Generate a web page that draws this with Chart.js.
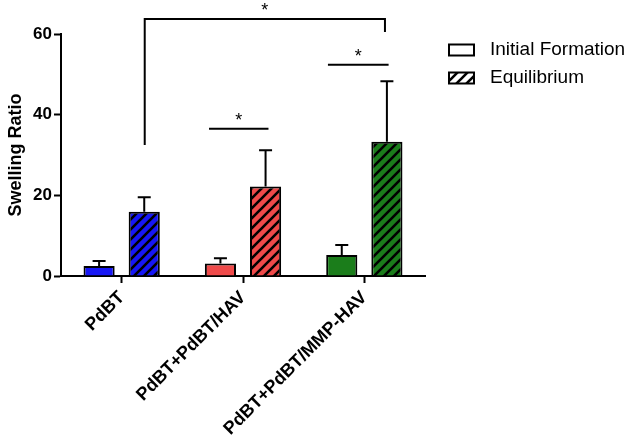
<!DOCTYPE html>
<html>
<head>
<meta charset="utf-8">
<script src="https://cdn.jsdelivr.net/npm/chart.js@4.4.1/dist/chart.umd.min.js"></script>
<style>
  html, body { margin: 0; padding: 0; background: #fff; }
  #wrap { width: 633px; height: 441px; position: relative; }
</style>
</head>
<body>
<div id="wrap"><canvas id="chart"></canvas></div>
<script>
const groups = ['PdBT', 'PdBT+PdBT/HAV', 'PdBT+PdBT/MMP-HAV'];
const seriesNames = ['Initial Formation', 'Equilibrium'];
const initialValues = [2.5, 3.1, 5.2];
const initialErrors = [1.2, 1.3, 2.5];
const equilibriumValues = [15.9, 22.2, 33.3];
const equilibriumErrors = [3.6, 9.0, 15.0];
const groupColors = ['#1717f5', '#ef4a4a', '#1b7d1b'];
const yTicks = [0, 20, 40, 60];
// significance brackets: x in category units, y in data units
const brackets = [
  { x1: 0.19, x2: 2.17, y: 63.7, leg1: 32.5, leg2: 60.5, label: '*' },
  { x1: 0.72, x2: 1.21, y: 36.5, label: '*' },
  { x1: 1.70, x2: 2.20, y: 52.4, label: '*' }
];

const FONT = "'Liberation Sans', Arial, sans-serif";

function hatch(bg, fg) {
  const size = 10;
  const c = document.createElement('canvas');
  c.width = size; c.height = size;
  const g = c.getContext('2d');
  g.fillStyle = bg;
  g.fillRect(0, 0, size, size);
  g.strokeStyle = fg;
  g.lineWidth = 2.6;
  g.beginPath();
  g.moveTo(-2, size + 2); g.lineTo(size + 2, -2);
  g.moveTo(-2, 2); g.lineTo(2, -2);
  g.moveTo(size - 2, size + 2); g.lineTo(size + 2, size - 2);
  g.stroke();
  return g.createPattern(c, 'repeat');
}

const errorBars = {
  id: 'errorBars',
  afterDatasetsDraw(chart) {
    const ctx = chart.ctx;
    const y = chart.scales.y;
    const errs = [initialErrors, equilibriumErrors];
    ctx.save();
    ctx.strokeStyle = '#000';
    ctx.lineWidth = 2;
    chart.data.datasets.forEach((ds, di) => {
      chart.getDatasetMeta(di).data.forEach((bar, i) => {
        const top = y.getPixelForValue(ds.data[i] + errs[di][i]);
        ctx.beginPath();
        ctx.moveTo(bar.x, bar.y);
        ctx.lineTo(bar.x, top);
        ctx.moveTo(bar.x - 6.5, top);
        ctx.lineTo(bar.x + 6.5, top);
        ctx.stroke();
      });
    });
    ctx.restore();
  }
};

const sigBrackets = {
  id: 'sigBrackets',
  afterDraw(chart) {
    const ctx = chart.ctx;
    const xs = chart.scales.x, ys = chart.scales.y;
    ctx.save();
    ctx.strokeStyle = '#000';
    ctx.lineWidth = 2;
    ctx.fillStyle = '#000';
    ctx.font = '18px ' + FONT;
    ctx.textAlign = 'center';
    ctx.textBaseline = 'middle';
    brackets.forEach(b => {
      const x1 = xs.getPixelForDecimal((b.x1 + 0.5) / groups.length);
      const x2 = xs.getPixelForDecimal((b.x2 + 0.5) / groups.length);
      const yy = ys.getPixelForValue(b.y);
      ctx.beginPath();
      if (b.leg1 !== undefined) {
        ctx.moveTo(x1, ys.getPixelForValue(b.leg1));
        ctx.lineTo(x1, yy);
        ctx.lineTo(x2, yy);
        ctx.lineTo(x2, ys.getPixelForValue(b.leg2));
      } else {
        ctx.moveTo(x1, yy);
        ctx.lineTo(x2, yy);
      }
      ctx.stroke();
      ctx.fillText(b.label, (x1 + x2) / 2, yy - 8);
    });
    ctx.restore();
  }
};

const customLegend = {
  id: 'customLegend',
  afterDraw(chart) {
    const ctx = chart.ctx;
    const fills = ['#ffffff', hatch('#ffffff', '#000000')];
    ctx.save();
    ctx.font = '19px ' + FONT;
    ctx.textBaseline = 'middle';
    ctx.textAlign = 'left';
    seriesNames.forEach((name, i) => {
      const cy = 50 + i * 28;
      ctx.fillStyle = fills[i];
      ctx.fillRect(449, cy - 5.5, 25, 11);
      ctx.strokeStyle = '#000';
      ctx.lineWidth = 2;
      ctx.strokeRect(449, cy - 5.5, 25, 11);
      ctx.fillStyle = '#000';
      ctx.fillText(name, 490, cy);
    });
    ctx.restore();
  }
};

new Chart(document.getElementById('chart'), {
  type: 'bar',
  data: {
    labels: groups,
    datasets: [
      {
        label: seriesNames[0],
        data: initialValues,
        backgroundColor: groupColors,
        borderColor: '#000',
        borderWidth: 2,
        categoryPercentage: 0.744,
        barPercentage: 0.69
      },
      {
        label: seriesNames[1],
        data: equilibriumValues,
        backgroundColor: groupColors.map(c => hatch(c, '#000')),
        borderColor: '#000',
        borderWidth: 2,
        categoryPercentage: 0.744,
        barPercentage: 0.69
      }
    ]
  },
  options: {
    responsive: true,
    maintainAspectRatio: false,
    animation: false,
    layout: { padding: { top: 34, right: 208, left: 0, bottom: 0 } },
    plugins: {
      legend: { display: false },
      tooltip: { enabled: false }
    },
    scales: {
      x: {
        grid: {
          offset: false,
          drawOnChartArea: false,
          drawTicks: true,
          tickLength: 7,
          tickWidth: 2,
          tickColor: '#000'
        },
        border: { display: true, color: '#000', width: 2 },
        ticks: {
          color: '#000',
          font: { family: FONT, size: 18, weight: 'bold' },
          minRotation: 45,
          maxRotation: 45,
          padding: 4
        },
        afterFit(scale) { scale.height = 165; }
      },
      y: {
        min: 0,
        max: 60,
        afterBuildTicks(scale) { scale.ticks = yTicks.map(v => ({ value: v })); },
        grid: {
          drawOnChartArea: false,
          drawTicks: true,
          tickLength: 7,
          tickWidth: 2,
          tickColor: '#000'
        },
        border: { display: true, color: '#000', width: 2 },
        ticks: {
          color: '#000',
          font: { family: FONT, size: 17, weight: 'bold' },
          padding: 2
        },
        title: {
          display: true,
          text: 'Swelling Ratio',
          color: '#000',
          font: { family: FONT, size: 18, weight: 'bold' },
          padding: { top: 5, bottom: 0 }
        },
        afterFit(scale) { scale.width = 61; }
      }
    }
  },
  plugins: [errorBars, sigBrackets, customLegend]
});
</script>
</body>
</html>
